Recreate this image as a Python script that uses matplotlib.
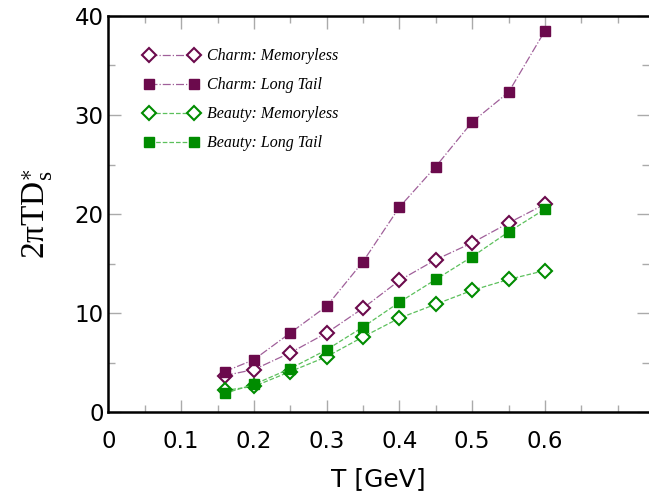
import numpy as np
import matplotlib
matplotlib.use("Agg")
import matplotlib.pyplot as plt
from matplotlib.ticker import MultipleLocator

# temperatures and diffusion coefficient values
T = [0.16, 0.2, 0.25, 0.3, 0.35, 0.4, 0.45, 0.5, 0.55, 0.6]
charm_memoryless = [3.7, 4.3, 6.0, 8.0, 10.5, 13.3, 15.4, 17.1, 19.1, 21.0]
charm_long_tail = [4.1, 5.3, 8.0, 10.7, 15.2, 20.7, 24.8, 29.3, 32.3, 38.5]
beauty_memoryless = [2.2, 2.6, 4.1, 5.6, 7.6, 9.5, 10.9, 12.3, 13.4, 14.3]
beauty_long_tail = [1.9, 2.8, 4.4, 6.3, 8.6, 11.1, 13.4, 15.7, 18.2, 20.5]

PURPLE = "#6b0a4c"
PURPLE_LINE = "#a0609a"
GREEN = "#008c00"
GREEN_LINE = "#5cc05c"

plt.rcParams["mathtext.fontset"] = "custom"
plt.rcParams["mathtext.rm"] = "Liberation Serif"
plt.rcParams["mathtext.it"] = "Liberation Serif:italic"

fig = plt.figure(figsize=(6.49, 4.99), dpi=100)
ax = fig.add_axes([0.167, 0.174, 0.833, 0.794])

ax.plot(T, charm_memoryless, linestyle="-.", color=PURPLE_LINE, lw=0.9,
        marker="D", ms=7.5, mfc="white", mec=PURPLE, mew=1.5,
        label="Charm: Memoryless")
ax.plot(T, charm_long_tail, linestyle="-.", color=PURPLE_LINE, lw=0.9,
        marker="s", ms=7.5, mfc=PURPLE, mec=PURPLE,
        label="Charm: Long Tail")
ax.plot(T, beauty_memoryless, linestyle="--", color=GREEN_LINE, lw=0.9,
        marker="D", ms=7.5, mfc="white", mec=GREEN, mew=1.5,
        label="Beauty: Memoryless")
ax.plot(T, beauty_long_tail, linestyle="--", color=GREEN_LINE, lw=0.9,
        marker="s", ms=7.5, mfc=GREEN, mec=GREEN,
        label="Beauty: Long Tail")

ax.set_xlim(0, 0.743)
ax.set_ylim(0, 40)
ax.xaxis.set_major_locator(MultipleLocator(0.1))
ax.xaxis.set_minor_locator(MultipleLocator(0.05))
ax.yaxis.set_major_locator(MultipleLocator(10))
ax.yaxis.set_minor_locator(MultipleLocator(5))
ax.set_xticks([0, 0.1, 0.2, 0.3, 0.4, 0.5, 0.6])
ax.set_xticklabels(["0", "0.1", "0.2", "0.3", "0.4", "0.5", "0.6"])

ax.tick_params(which="both", direction="in", top=True, right=True,
               color="#aaaaaa", labelsize=16.5, width=1)
ax.tick_params(which="major", length=9)
ax.tick_params(which="minor", length=5)
ax.tick_params(axis="x", pad=13)
for side in ["left", "bottom", "top"]:
    ax.spines[side].set_linewidth(1.8)
ax.spines["right"].set_visible(False)

ax.set_xlabel("T [GeV]", fontsize=18, labelpad=10)
ax.set_ylabel(r"2πTD$_{\mathrm{s}}^{\ast}$", fontsize=24,
              family="Liberation Serif", labelpad=14)

ax.legend(loc="upper left", bbox_to_anchor=(0.04, 0.955), frameon=False,
          numpoints=2, handlelength=3.4, handletextpad=0.55, labelspacing=0.82,
          prop={"family": "Liberation Serif", "style": "italic", "size": 11.5})

fig.savefig("out.png", dpi=100)
